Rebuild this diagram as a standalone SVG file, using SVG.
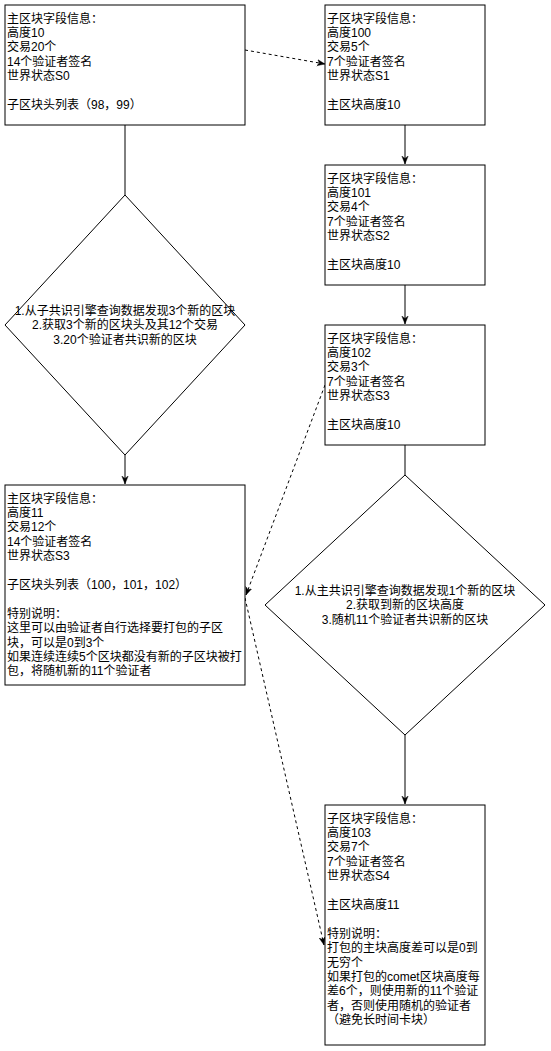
<svg xmlns="http://www.w3.org/2000/svg" width="551" height="1051" viewBox="0 0 551 1051">
<style>
.box{fill:#fff;stroke:#000;stroke-width:1}
.t{font-family:"Liberation Sans","Noto Sans CJK SC",sans-serif;font-size:12px;fill:#000}
.c{text-anchor:middle}
.e{fill:none;stroke:#000;stroke-width:1}
.d{stroke-dasharray:3 3}
</style>
<defs>
<marker id="arr" viewBox="0 0 10 10" refX="10" refY="5" markerWidth="8" markerHeight="8" markerUnits="userSpaceOnUse" orient="auto">
<path d="M0,1 L10,5 L0,9 L3,5 z" fill="#000" stroke="#000" stroke-width="0.5"/>
</marker>
</defs>
<rect width="551" height="1051" fill="#fff"/>
<g id="connectors">
<path class="e" d="M125,125 L125,195"/>
<path class="e" d="M125,455 L125,484" marker-end="url(#arr)"/>
<path class="e" d="M405,125 L405,164" marker-end="url(#arr)"/>
<path class="e" d="M405,285 L405,324" marker-end="url(#arr)"/>
<path class="e" d="M405,445 L405,475"/>
<path class="e" d="M405,735 L405,804" marker-end="url(#arr)"/>
<path class="e d" d="M245,50 L325,64" marker-end="url(#arr)"/>
<path class="e d" d="M325,385 L246,595" marker-end="url(#arr)"/>
<path class="e d" d="M245,598 L324,945" marker-end="url(#arr)"/>
</g>
<g id="main0">
<rect class="box" x="5" y="5" width="240" height="120"/>
<text class="t" y="22.5"><tspan x="7">主区块字段信息：</tspan><tspan x="7" dy="14.4">高度10</tspan><tspan x="7" dy="14.4">交易20个</tspan><tspan x="7" dy="14.4">14个验证者签名</tspan><tspan x="7" dy="14.4">世界状态S0</tspan><tspan x="7" dy="28.8">子区块头列表（98，99）</tspan></text>
</g>
<g id="sub100">
<rect class="box" x="325" y="5" width="160" height="120"/>
<text class="t" y="22.5"><tspan x="327">子区块字段信息：</tspan><tspan x="327" dy="14.4">高度100</tspan><tspan x="327" dy="14.4">交易5个</tspan><tspan x="327" dy="14.4">7个验证者签名</tspan><tspan x="327" dy="14.4">世界状态S1</tspan><tspan x="327" dy="28.8">主区块高度10</tspan></text>
</g>
<g id="sub101">
<rect class="box" x="325" y="165" width="160" height="120"/>
<text class="t" y="182.5"><tspan x="327">子区块字段信息：</tspan><tspan x="327" dy="14.4">高度101</tspan><tspan x="327" dy="14.4">交易4个</tspan><tspan x="327" dy="14.4">7个验证者签名</tspan><tspan x="327" dy="14.4">世界状态S2</tspan><tspan x="327" dy="28.8">主区块高度10</tspan></text>
</g>
<g id="sub102">
<rect class="box" x="325" y="325" width="160" height="120"/>
<text class="t" y="342.5"><tspan x="327">子区块字段信息：</tspan><tspan x="327" dy="14.4">高度102</tspan><tspan x="327" dy="14.4">交易3个</tspan><tspan x="327" dy="14.4">7个验证者签名</tspan><tspan x="327" dy="14.4">世界状态S3</tspan><tspan x="327" dy="28.8">主区块高度10</tspan></text>
</g>
<g id="diamondLeft">
<polygon class="box" points="125,195 245,325 125,455 5,325"/>
<text class="t c" y="315"><tspan x="125">1.从子共识引擎查询数据发现3个新的区块</tspan><tspan x="125" dy="14.4">2.获取3个新的区块头及其12个交易</tspan><tspan x="125" dy="14.4">3.20个验证者共识新的区块</tspan></text>
</g>
<g id="main11">
<rect class="box" x="5" y="485" width="240" height="200"/>
<text class="t" y="502.5"><tspan x="7">主区块字段信息：</tspan><tspan x="7" dy="14.4">高度11</tspan><tspan x="7" dy="14.4">交易12个</tspan><tspan x="7" dy="14.4">14个验证者签名</tspan><tspan x="7" dy="14.4">世界状态S3</tspan><tspan x="7" dy="28.8">子区块头列表（100，101，102）</tspan><tspan x="7" dy="28.8">特别说明：</tspan><tspan x="7" dy="14.4">这里可以由验证者自行选择要打包的子区</tspan><tspan x="7" dy="14.4">块，可以是0到3个</tspan><tspan x="7" dy="14.4">如果连续连续5个区块都没有新的子区块被打</tspan><tspan x="7" dy="14.4">包，将随机新的11个验证者</tspan></text>
</g>
<g id="diamondRight">
<polygon class="box" points="405,475 545,605 405,735 265,605"/>
<text class="t c" y="595"><tspan x="405">1.从主共识引擎查询数据发现1个新的区块</tspan><tspan x="405" dy="14.4">2.获取到新的区块高度</tspan><tspan x="405" dy="14.4">3.随机11个验证者共识新的区块</tspan></text>
</g>
<g id="sub103">
<rect class="box" x="325" y="805" width="160" height="240"/>
<text class="t" y="822.5"><tspan x="327">子区块字段信息：</tspan><tspan x="327" dy="14.4">高度103</tspan><tspan x="327" dy="14.4">交易7个</tspan><tspan x="327" dy="14.4">7个验证者签名</tspan><tspan x="327" dy="14.4">世界状态S4</tspan><tspan x="327" dy="28.8">主区块高度11</tspan><tspan x="327" dy="28.8">特别说明：</tspan><tspan x="327" dy="14.4">打包的主块高度差可以是0到</tspan><tspan x="327" dy="14.4">无穷个</tspan><tspan x="327" dy="14.4">如果打包的comet区块高度每</tspan><tspan x="327" dy="14.4">差6个，则使用新的11个验证</tspan><tspan x="327" dy="14.4">者，否则使用随机的验证者</tspan><tspan x="327" dy="14.4">（避免长时间卡块）</tspan></text>
</g>
</svg>
